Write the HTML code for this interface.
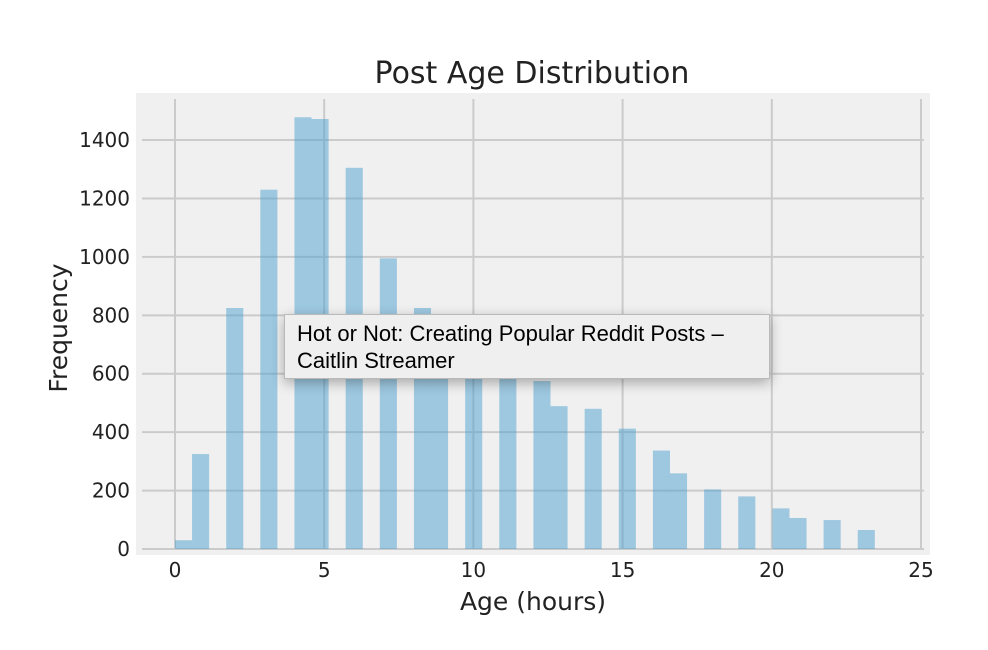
<!DOCTYPE html>
<html><head><meta charset="utf-8"><style>
body{margin:0;background:#fff;width:988px;height:646px;overflow:hidden;position:relative;font-family:"DejaVu Sans","Liberation Sans",sans-serif}
svg text{font-family:"DejaVu Sans","Liberation Sans",sans-serif}
#tip{position:absolute;left:284px;top:314px;width:486px;height:65px;background:#efefef;border:1px solid #b9b9b9;box-shadow:0 4px 12px rgba(0,0,0,.3);box-sizing:border-box;padding:5px 12px;font-family:"Liberation Sans",sans-serif;font-size:22px;line-height:27px;color:#000;white-space:nowrap}
</style></head><body>
<svg id="chart" width="988" height="646">
<rect x="136" y="93" width="794" height="462" fill="#f0f0f0"/>
<g id="grid"></g><g id="bars"></g><g id="ticks"></g>
<text x="532" y="83" font-size="30" text-anchor="middle" fill="#222">Post Age Distribution</text>
<text x="533" y="610" font-size="25" text-anchor="middle" fill="#222">Age (hours)</text>
<text transform="translate(67,328) rotate(-90)" font-size="25" text-anchor="middle" fill="#222">Frequency</text>
</svg>
<div id="tip">Hot or Not: Creating Popular Reddit Posts –<br>Caitlin Streamer</div>
<script>
const binIndex=[0,1,3,5,7,8,10,12,14,15,17,19,21,22,24,26,28,29,31,33,35,36,38,40];
const counts=[30,325,825,1230,1478,1472,1305,995,825,700,620,600,575,489,480,412,337,259,204,180,139,106,99,65];
const binWidth=0.572;
const xTicks=[0,5,10,15,20,25];
const yTicks=[0,200,400,600,800,1000,1200,1400];
const X=v=>175+v*29.84, Y=v=>549-v*0.2921;
const ns="http://www.w3.org/2000/svg";
const g=document.getElementById('grid'),b=document.getElementById('bars'),t=document.getElementById('ticks');
function mk(p,tag,a){const e=document.createElementNS(ns,tag);for(const k in a)e.setAttribute(k,a[k]);p.appendChild(e);return e;}
xTicks.forEach(v=>{
 const l=mk(g,'line',{x1:X(v),x2:X(v),y1:99,y2:549,stroke:'#cbcbcb','stroke-width':2});
 
 
 const tx=mk(t,'text',{x:X(v),y:577,'font-size':20,'text-anchor':'middle',fill:'#222'});tx.textContent=v;
 
 
});
yTicks.forEach(v=>{
 const l=mk(g,'line',{x1:142,x2:924,y1:Y(v),y2:Y(v),stroke:'#cbcbcb','stroke-width':2});
 
 
 const tx=mk(t,'text',{x:130,y:Y(v)+7,'font-size':20,'text-anchor':'end',fill:'#222'});tx.textContent=v;
 
 
});
binIndex.forEach((i,k)=>{
 const x0=X(i*binWidth),x1=X((i+1)*binWidth);
 const r=mk(b,'rect',{x:x0,y:Y(counts[k]),width:x1-x0,height:Y(0)-Y(counts[k]),fill:'#4a9fcf','fill-opacity':0.5});
 
 
});
</script>
</body></html>
